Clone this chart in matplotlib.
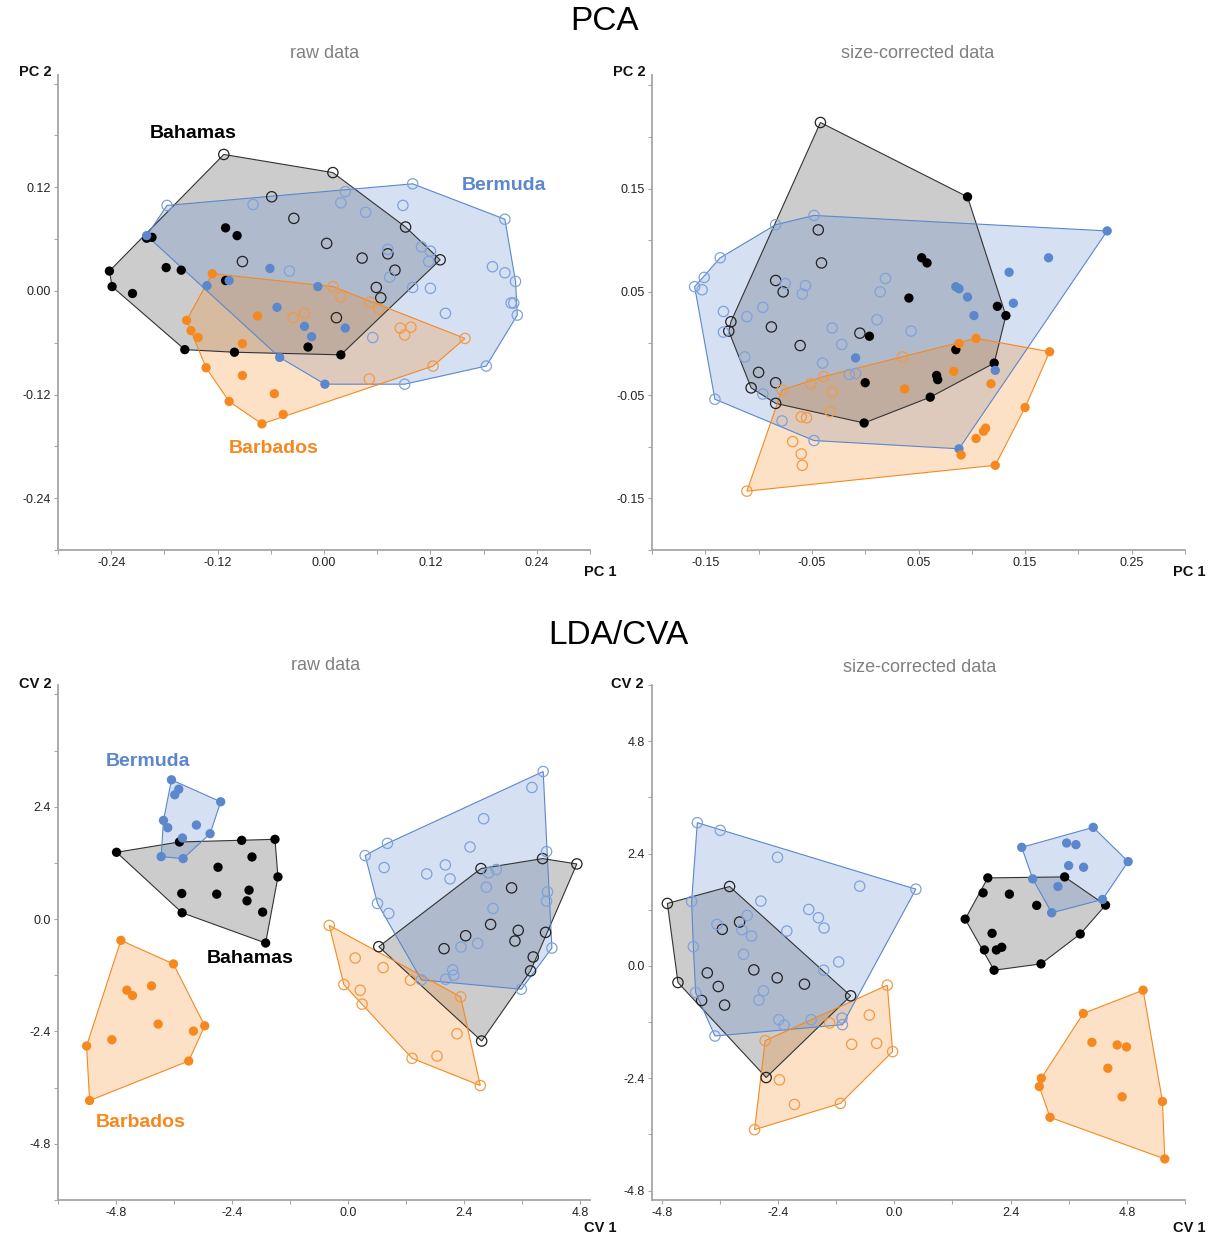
import numpy as np
import matplotlib
matplotlib.use('Agg')
import matplotlib.pyplot as plt
from matplotlib.patches import Polygon
from matplotlib.ticker import FixedLocator, MultipleLocator, FormatStrFormatter

plt.rcParams['font.family'] = ['Liberation Sans', 'DejaVu Sans']
plt.rcParams['axes.unicode_minus'] = False

## PCA, raw data
pca_raw_bah_open = np.array([
    [-0.113, 0.158], [0.010, 0.137], [-0.059, 0.109], [-0.034, 0.084], [0.003, 0.055],
    [-0.092, 0.034], [0.014, -0.031], [0.092, 0.074], [0.131, 0.036], [0.043, 0.038],
    [0.072, 0.043], [0.080, 0.024], [0.059, 0.004], [0.064, -0.008]])
pca_raw_bah_fill = np.array([
    [-0.200, 0.061], [-0.194, 0.062], [-0.111, 0.073], [-0.098, 0.064], [-0.242, 0.023],
    [-0.239, 0.005], [-0.216, -0.003], [-0.178, 0.027], [-0.161, 0.024], [-0.111, 0.012],
    [-0.157, -0.068], [-0.101, -0.071], [-0.018, -0.065], [0.019, -0.074]])
pca_raw_ber_fill = np.array([
    [-0.200, 0.064], [-0.132, 0.006], [-0.107, 0.012], [-0.061, 0.026], [-0.007, 0.005],
    [-0.053, -0.019], [-0.022, -0.041], [-0.014, -0.053], [0.024, -0.043], [-0.050, -0.077],
    [0.001, -0.108]])
pca_raw_ber_open = np.array([
    [-0.177, 0.099], [-0.080, 0.100], [-0.039, 0.023], [0.100, 0.124], [0.024, 0.115],
    [0.019, 0.102], [0.089, 0.099], [0.047, 0.091], [0.204, 0.083], [0.072, 0.048],
    [0.110, 0.051], [0.120, 0.046], [0.118, 0.034], [0.190, 0.028], [0.204, 0.021],
    [0.216, 0.011], [0.074, 0.016], [0.100, 0.004], [0.120, 0.003], [0.211, -0.014],
    [0.214, -0.014], [0.218, -0.028], [0.137, -0.026], [0.055, -0.054], [0.183, -0.087],
    [0.091, -0.108]])
pca_raw_bar_fill = np.array([
    [-0.126, 0.020], [-0.075, -0.029], [-0.155, -0.034], [-0.150, -0.046], [-0.142, -0.054],
    [-0.092, -0.061], [-0.133, -0.089], [-0.092, -0.098], [-0.056, -0.119], [-0.107, -0.128],
    [-0.046, -0.143], [-0.070, -0.154]])
pca_raw_bar_open = np.array([
    [-0.035, -0.031], [-0.022, -0.026], [0.010, 0.005], [0.019, -0.007], [0.052, -0.013],
    [0.062, -0.021], [0.086, -0.043], [0.098, -0.042], [0.091, -0.051], [0.159, -0.055],
    [0.123, -0.087], [0.051, -0.102]])

## PCA, size-corrected data
pca_sc_bah_open = np.array([
    [-0.042, 0.214], [-0.044, 0.110], [-0.041, 0.078], [-0.084, 0.061], [-0.077, 0.050],
    [-0.126, 0.021], [-0.128, 0.012], [-0.088, 0.016], [-0.061, -0.002], [-0.005, 0.010],
    [-0.100, -0.028], [-0.107, -0.043], [-0.084, -0.038], [-0.084, -0.058]])
pca_sc_bah_fill = np.array([
    [0.004, 0.007], [0.041, 0.044], [0.000, -0.038], [-0.001, -0.077], [0.096, 0.142],
    [0.053, 0.083], [0.058, 0.078], [0.124, 0.036], [0.132, 0.027], [0.085, -0.006],
    [0.121, -0.019], [0.067, -0.031], [0.068, -0.035], [0.061, -0.052]])
pca_sc_ber_fill = np.array([
    [0.227, 0.109], [0.172, 0.083], [0.135, 0.069], [0.085, 0.055], [0.088, 0.053],
    [0.096, 0.045], [0.139, 0.039], [0.102, 0.027], [0.122, -0.026], [0.088, -0.102],
    [-0.009, -0.014]])
pca_sc_ber_open = np.array([
    [0.043, 0.012], [-0.048, 0.124], [-0.084, 0.115], [-0.136, 0.083], [-0.151, 0.064],
    [-0.160, 0.055], [-0.153, 0.052], [-0.133, 0.031], [-0.133, 0.011], [-0.111, 0.026],
    [-0.096, 0.035], [-0.075, 0.058], [-0.056, 0.056], [-0.059, 0.048], [0.019, 0.063],
    [0.014, 0.050], [0.011, 0.023], [-0.031, 0.015], [-0.022, -0.001], [-0.040, -0.019],
    [-0.113, -0.013], [-0.015, -0.030], [-0.009, -0.029], [-0.141, -0.054], [-0.096, -0.049],
    [-0.078, -0.075], [-0.048, -0.094]])
pca_sc_bar_open = np.array([
    [0.035, -0.013], [-0.039, -0.032], [-0.051, -0.039], [-0.078, -0.045], [-0.031, -0.047],
    [-0.033, -0.066], [-0.060, -0.071], [-0.055, -0.072], [-0.068, -0.095], [-0.060, -0.107],
    [-0.059, -0.118], [-0.111, -0.143]])
pca_sc_bar_fill = np.array([
    [0.037, -0.044], [0.104, 0.005], [0.088, 0.000], [0.173, -0.008], [0.083, -0.027],
    [0.118, -0.039], [0.150, -0.062], [0.113, -0.082], [0.111, -0.085], [0.104, -0.092],
    [0.090, -0.108], [0.122, -0.118]])

## LDA/CVA, raw data
lda_raw_ber_fill = np.array([
    [-3.654, 2.975], [-3.503, 2.775], [-3.586, 2.655], [-2.636, 2.506], [-3.819, 2.108],
    [-3.730, 1.952], [-3.138, 2.009], [-2.855, 1.824], [-3.427, 1.732], [-3.867, 1.334],
    [-3.413, 1.292]])
lda_raw_bah_fill = np.array([
    [-4.790, 1.427], [-3.489, 1.647], [-2.202, 1.682], [-1.514, 1.704], [-1.989, 1.327],
    [-2.691, 1.107], [-1.452, 0.901], [-3.441, 0.547], [-2.718, 0.532], [-2.050, 0.618],
    [-2.092, 0.390], [-1.769, 0.149], [-3.434, 0.135], [-1.707, -0.511]])
lda_raw_bar_fill = np.array([
    [-4.700, -0.454], [-3.613, -0.958], [-4.067, -1.427], [-4.576, -1.519], [-4.459, -1.633],
    [-3.929, -2.243], [-2.966, -2.279], [-3.200, -2.392], [-4.886, -2.577], [-5.409, -2.711],
    [-3.297, -3.031], [-5.347, -3.876]])
lda_raw_ber_open = np.array([
    [4.032, 3.152], [3.799, 2.811], [2.801, 2.144], [0.812, 1.618], [2.519, 1.540],
    [0.351, 1.356], [4.102, 1.441], [0.743, 1.100], [2.009, 1.157], [1.624, 0.965],
    [2.106, 0.859], [2.904, 0.986], [3.062, 1.058], [2.856, 0.681], [4.122, 0.582],
    [4.102, 0.383], [0.606, 0.334], [0.839, 0.121], [2.994, 0.227], [2.333, -0.596],
    [2.677, -0.518], [4.212, -0.618], [2.161, -1.086], [2.182, -1.200], [2.016, -1.285],
    [1.514, -1.299], [3.579, -1.498]])
lda_raw_bah_open = np.array([
    [2.746, 1.079], [4.019, 1.292], [4.728, 1.178], [3.379, 0.667], [2.945, -0.114],
    [2.429, -0.355], [3.516, -0.241], [3.448, -0.468], [4.081, -0.284], [1.982, -0.632],
    [0.633, -0.589], [3.826, -0.809], [3.771, -1.107], [2.760, -2.605]])
lda_raw_bar_open = np.array([
    [-0.392, -0.135], [0.145, -0.831], [0.723, -1.036], [1.287, -1.306], [-0.089, -1.398],
    [0.248, -1.519], [0.289, -1.817], [2.326, -1.661], [2.250, -2.449], [1.321, -2.974],
    [1.837, -2.925], [2.732, -3.556]])

## LDA/CVA, size-corrected data
lda_sc_ber_open = np.array([
    [-4.065, 3.059], [-3.591, 2.895], [-2.410, 2.320], [-0.714, 1.703], [0.446, 1.639],
    [-2.754, 1.384], [-4.182, 1.377], [-1.765, 1.206], [-1.566, 1.029], [-1.449, 0.809],
    [-3.035, 1.078], [-3.660, 0.887], [-3.145, 0.773], [-2.946, 0.639], [-2.218, 0.745],
    [-4.147, 0.411], [-3.111, 0.248], [-1.147, 0.085], [-1.456, -0.092], [-4.099, -0.568],
    [-2.699, -0.532], [-2.795, -0.731], [-2.383, -1.149], [-2.273, -1.263], [-1.716, -1.149],
    [-1.078, -1.114], [-1.071, -1.256], [-3.701, -1.497]])
lda_sc_bah_open = np.array([
    [-3.399, 1.696], [-4.683, 1.334], [-3.193, 0.937], [-3.550, 0.781], [-3.859, -0.149],
    [-2.898, -0.085], [-2.417, -0.255], [-1.854, -0.390], [-4.464, -0.355], [-3.632, -0.440],
    [-3.976, -0.738], [-3.502, -0.837], [-0.900, -0.639], [-2.644, -2.384]])
lda_sc_bar_open = np.array([
    [-0.144, -0.411], [-0.515, -1.050], [-1.332, -1.220], [-2.664, -1.596], [-0.879, -1.674],
    [-0.364, -1.653], [-0.034, -1.831], [-2.369, -2.434], [-2.060, -2.959], [-1.112, -2.937],
    [-2.884, -3.498]])
lda_sc_ber_fill = np.array([
    [4.106, 2.959], [2.630, 2.533], [3.557, 2.625], [3.749, 2.590], [4.827, 2.228],
    [3.598, 2.143], [3.907, 2.107], [2.857, 1.859], [3.378, 1.696], [4.299, 1.419],
    [3.248, 1.135]])
lda_sc_bah_fill = np.array([
    [1.930, 1.880], [3.516, 1.901], [1.833, 1.561], [2.376, 1.533], [2.939, 1.292],
    [4.361, 1.298], [1.463, 1.000], [3.838, 0.681], [2.019, 0.696], [1.860, 0.341],
    [2.107, 0.341], [2.218, 0.398], [3.028, 0.043], [2.060, -0.092]])
lda_sc_bar_fill = np.array([
    [5.136, -0.518], [3.900, -1.015], [4.079, -1.632], [4.600, -1.688], [4.793, -1.731],
    [4.408, -2.186], [3.034, -2.399], [2.993, -2.576], [4.703, -2.795], [5.535, -2.895],
    [3.214, -3.235], [5.583, -4.123]])

## colours
c_bah = '#000000'
c_ber = '#5B87CC'
c_bar = '#F5891F'
W, H = 1223., 1237.


def px(x, y):
    # pixel position (from top left) to figure fraction
    return x / W, 1 - y / H


def hull(pts):
    # convex hull, monotone chain
    p = sorted(map(tuple, pts))
    def cross(o, a, b):
        return (a[0] - o[0]) * (b[1] - o[1]) - (a[1] - o[1]) * (b[0] - o[0])
    lower = []
    for q in p:
        while len(lower) >= 2 and cross(lower[-2], lower[-1], q) <= 0:
            lower.pop()
        lower.append(q)
    upper = []
    for q in reversed(p):
        while len(upper) >= 2 and cross(upper[-2], upper[-1], q) <= 0:
            upper.pop()
        upper.append(q)
    return np.array(lower[:-1] + upper[:-1])


def draw_hull(ax, pts, col, alpha, edge):
    h = hull(pts)
    ax.add_patch(Polygon(h, closed=True, facecolor=col, alpha=alpha, edgecolor='none', zorder=1))
    ax.add_patch(Polygon(h, closed=True, facecolor='none', edgecolor=edge, lw=0.8, zorder=2))


def draw_group(ax, filled, opened, col, alpha, edge, split):
    # PCA: one hull per island; LDA: one hull per island and specimen type
    if split:
        draw_hull(ax, filled, col, alpha, edge)
        draw_hull(ax, opened, col, alpha, edge)
    else:
        draw_hull(ax, np.vstack([filled, opened]), col, alpha, edge)


def draw_points(ax, filled, opened, col, opencol):
    ax.scatter(opened[:, 0], opened[:, 1], s=55, facecolors='none', edgecolors=opencol,
               linewidths=0.9, zorder=3)
    ax.scatter(filled[:, 0], filled[:, 1], s=45, color=col, edgecolors='none', zorder=4)


def style(ax, xlim, ylim, xt, yt, minor, fmt):
    ax.set_xlim(xlim)
    ax.set_ylim(ylim)
    for s in ['top', 'right']:
        ax.spines[s].set_visible(False)
    for s in ['left', 'bottom']:
        ax.spines[s].set_color('#A6A6A6')
        ax.spines[s].set_linewidth(1.3)
    ax.xaxis.set_major_locator(FixedLocator(xt))
    ax.yaxis.set_major_locator(FixedLocator(yt))
    ax.xaxis.set_minor_locator(MultipleLocator(minor))
    ax.yaxis.set_minor_locator(MultipleLocator(minor))
    ax.xaxis.set_major_formatter(FormatStrFormatter(fmt))
    ax.yaxis.set_major_formatter(FormatStrFormatter(fmt))
    ax.tick_params(which='both', direction='out', length=3, width=0.8, color='#A6A6A6',
                   labelsize=9, labelcolor='#222222', pad=2)
    ax.set_facecolor('none')


fig = plt.figure(figsize=(W / 100, H / 100), dpi=100)
ax1 = fig.add_axes([58 / W, 1 - 550 / H, 532 / W, 475 / H])
ax2 = fig.add_axes([652 / W, 1 - 550 / H, 533 / W, 475 / H])
ax3 = fig.add_axes([58 / W, 1 - 1200 / H, 532 / W, 515 / H])
ax4 = fig.add_axes([652 / W, 1 - 1200 / H, 533 / W, 515 / H])

panels = [
    (ax1, False, pca_raw_bah_fill, pca_raw_bah_open, pca_raw_ber_fill, pca_raw_ber_open,
     pca_raw_bar_fill, pca_raw_bar_open),
    (ax2, False, pca_sc_bah_fill, pca_sc_bah_open, pca_sc_ber_fill, pca_sc_ber_open,
     pca_sc_bar_fill, pca_sc_bar_open),
    (ax3, True, lda_raw_bah_fill, lda_raw_bah_open, lda_raw_ber_fill, lda_raw_ber_open,
     lda_raw_bar_fill, lda_raw_bar_open),
    (ax4, True, lda_sc_bah_fill, lda_sc_bah_open, lda_sc_ber_fill, lda_sc_ber_open,
     lda_sc_bar_fill, lda_sc_bar_open),
]

for ax, split, bahf, baho, berf, bero, barf, baro in panels:
    draw_group(ax, bahf, baho, c_bah, 0.2, '#333333', split)
    draw_group(ax, berf, bero, c_ber, 0.25, c_ber, split)
    draw_group(ax, barf, baro, c_bar, 0.25, c_bar, split)
    draw_points(ax, bahf, baho, c_bah, '#222222')
    draw_points(ax, berf, bero, c_ber, '#7FA2DA')
    draw_points(ax, barf, baro, c_bar, '#F29A45')

style(ax1, (-0.3, 0.3), (-0.3, 0.25), [-0.24, -0.12, 0, 0.12, 0.24], [-0.24, -0.12, 0, 0.12], 0.06, '%.2f')
style(ax2, (-0.2, 0.3), (-0.2, 0.26), [-0.15, -0.05, 0.05, 0.15, 0.25], [-0.15, -0.05, 0.05, 0.15], 0.05, '%.2f')
style(ax3, (-6, 5), (-6, 5), [-4.8, -2.4, 0, 2.4, 4.8], [-4.8, -2.4, 0, 2.4], 1.2, '%.1f')
style(ax4, (-5, 6), (-5, 6), [-4.8, -2.4, 0, 2.4, 4.8], [-4.8, -2.4, 0, 2.4, 4.8], 1.2, '%.1f')

## group names
lab = dict(fontsize=14, ha='center', va='center', fontweight='bold', zorder=5)
ax1.text(-0.148, 0.182, 'Bahamas', color=c_bah, **lab)
ax1.text(0.203, 0.122, 'Bermuda', color=c_ber, **lab)
ax1.text(-0.057, -0.183, 'Barbados', color=c_bar, **lab)
ax3.text(-4.147, 3.365, 'Bermuda', color=c_ber, **lab)
ax3.text(-2.023, -0.852, 'Bahamas', color=c_bah, **lab)
ax3.text(-4.294, -4.344, 'Barbados', color=c_bar, **lab)

## titles and axis names
fig.text(*px(605, 22), 'PCA', fontsize=24, ha='center', va='center')
fig.text(*px(618, 635), 'LDA/CVA', fontsize=24, ha='center', va='center')
sub = dict(fontsize=13, color='#808080', ha='center', va='center')
fig.text(*px(325, 54), 'raw data', **sub)
fig.text(*px(918, 54), 'size-corrected data', **sub)
fig.text(*px(326, 666), 'raw data', **sub)
fig.text(*px(920, 667), 'size-corrected data', **sub)
axl = dict(fontsize=10.5, ha='center', va='center', color='#111111', fontweight='bold')
fig.text(*px(35, 72), 'PC 2', **axl)
fig.text(*px(600, 572), 'PC 1', **axl)
fig.text(*px(629, 72), 'PC 2', **axl)
fig.text(*px(1189, 572), 'PC 1', **axl)
fig.text(*px(35, 684), 'CV 2', **axl)
fig.text(*px(600, 1228), 'CV 1', **axl)
fig.text(*px(627, 684), 'CV 2', **axl)
fig.text(*px(1189, 1228), 'CV 1', **axl)

fig.savefig('out.png', dpi=100, facecolor='white')
